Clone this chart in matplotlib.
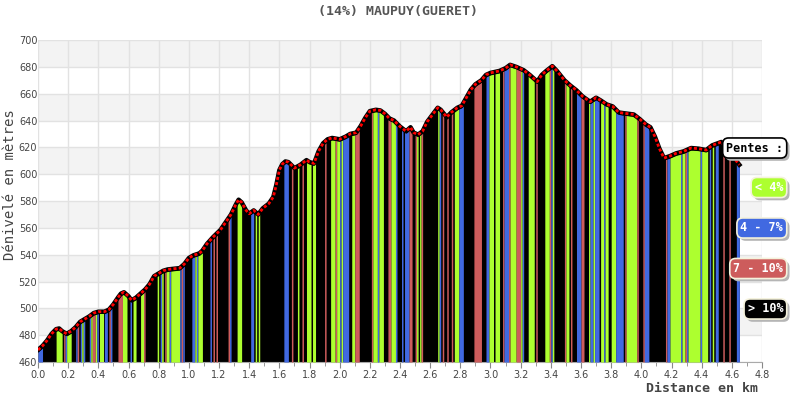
import numpy as np
import matplotlib
matplotlib.use('Agg')
import matplotlib.pyplot as plt
import matplotlib.patheffects as pe

# profil : distance (km) et altitude (m)
dist = [0.00, 0.03, 0.06, 0.09, 0.12, 0.14, 0.16, 0.19, 0.22, 0.25, 0.28, 0.31,
        0.34, 0.37, 0.40, 0.44, 0.47, 0.50, 0.53, 0.55, 0.57, 0.60, 0.62, 0.65,
        0.68, 0.71, 0.74, 0.77, 0.80, 0.83, 0.86, 0.90, 0.94, 0.97, 1.00, 1.03,
        1.07, 1.09, 1.12, 1.16, 1.21, 1.25, 1.28, 1.31, 1.33, 1.35, 1.38, 1.40,
        1.43, 1.46, 1.49, 1.53, 1.56, 1.58, 1.60, 1.62, 1.64, 1.66, 1.70, 1.74,
        1.78, 1.80, 1.83, 1.86, 1.89, 1.92, 1.95, 2.00, 2.04, 2.07, 2.11, 2.14,
        2.17, 2.20, 2.24, 2.27, 2.30, 2.33, 2.36, 2.40, 2.44, 2.47, 2.49, 2.52,
        2.55, 2.58, 2.62, 2.65, 2.67, 2.71, 2.74, 2.78, 2.81, 2.84, 2.87, 2.90,
        2.94, 2.97, 3.00, 3.06, 3.10, 3.13, 3.17, 3.22, 3.26, 3.31, 3.34, 3.37,
        3.41, 3.44, 3.49, 3.53, 3.57, 3.61, 3.66, 3.70, 3.73, 3.77, 3.81, 3.85,
        3.88, 3.95, 3.99, 4.03, 4.06, 4.09, 4.12, 4.15, 4.19, 4.23, 4.28, 4.33,
        4.38, 4.43, 4.47, 4.53, 4.56, 4.60, 4.65]
alt = [469, 472, 476, 481, 484.5, 485, 483, 481, 483, 486, 490, 492,
       494, 496.5, 497.5, 497.5, 499, 503, 508, 511, 512, 509, 506, 508,
       511, 514, 518, 524, 526, 528, 529, 529.5, 530, 533, 537.5, 539.5,
       541, 543, 548, 553, 558.5, 565, 570, 577, 581, 579, 573, 570.5,
       573, 570, 574.5, 578, 583, 592, 603, 607.5, 609.5, 609, 604.5, 607,
       610.5, 609, 608, 617, 623, 626, 627, 626, 628, 630, 631, 636,
       642, 647, 648, 647.5, 645, 641.5, 640, 635.5, 632, 635, 631, 629.5,
       632, 639, 645, 649.5, 648, 642.5, 646, 649.5, 651, 657, 663, 667,
       670, 674, 675.5, 677, 679, 681.5, 680, 677.5, 674, 669, 674, 677,
       680.5, 677, 670, 666, 662.5, 658, 654, 657, 655, 652, 650.5, 646,
       645.5, 644.5, 641, 637, 635, 628, 619, 612, 613.5, 615.5, 617, 619.5,
       619, 618, 621.5, 624, 620, 614, 607]

# bandes de pente par pas de 0.01 km : code couleur + nombre de pas
slope_runs = ("B3 K9 G4 K1 R1 B1 G3 K3 B1 R1 K1 B1 G1 B1 K3 B1 G1 R2 G1 B1 K1 G3 B2 K1 "
              "R1 B1 K4 R3 G3 K2 B1 K1 G2 K3 G2 R1 K8 G1 K1 B1 G1 K1 R1 G2 B1 G6 B1 R1 "
              "B1 K5 B2 G1 B1 G3 K5 B1 K1 R1 K1 R1 K7 R1 B1 K4 G3 K6 B2 K1 G1 K1 G1 K16 "
              "B3 K2 R1 K3 G1 K2 R1 K2 G3 K1 G2 K6 R1 K3 G3 R1 G2 B1 G1 B4 K2 G2 R3 K8 "
              "R1 G3 B1 G3 K3 R2 G3 B1 K3 B1 K1 B3 R2 K2 R1 G1 K1 G1 R1 K10 G1 B1 K1 R1 "
              "K2 R1 K2 R1 K1 G3 B3 K7 R5 K3 B2 G3 K1 G3 K2 R1 B3 R1 G4 R3 G1 B1 K3 G4 "
              "K1 R1 K5 G3 R1 B1 G1 K7 R1 G2 K1 R1 K3 B3 R2 K3 G1 B2 G1 B3 K1 G2 B1 G2 "
              "K2 G3 B5 K1 R1 G7 R1 K3 R1 B3 K11 R1 B2 G7 B1 G2 R1 B1 G8 B1 G4 K1 B1 K1 "
              "G1 K1 B2 K3 R1 K3 R1 K4 B2")

slope_colors = {'G': '#adff2f', 'B': '#4169e1', 'R': '#cd5c5c', 'K': '#000000'}
legend_codes = ['G', 'B', 'R', 'K']
legend_labels = ['< 4%', '4 - 7%', '7 - 10%', '> 10%']
title = '(14%) MAUPUY(GUERET)'

mono = 'DejaVu Sans Mono'
fig = plt.figure(figsize=(8, 4), dpi=100)
ax = fig.add_axes([0.0475, 0.095, 0.905, 0.805])
ax.set_xlim(0, 4.8)
ax.set_ylim(460, 700)

# bandes grises du fond
for y0 in range(480, 700, 40):
    ax.axhspan(y0, y0 + 20, color='#f3f3f3', lw=0, zorder=0)

ax.set_xticks(np.arange(0, 4.81, 0.2))
ax.set_xticks(np.arange(0, 4.81, 0.1), minor=True)
ax.set_xticklabels(['%.1f' % v for v in np.arange(0, 4.81, 0.2)])
ax.set_yticks(range(460, 701, 20))
ax.grid(True, which='major', color='#e2e2e2', lw=1)
ax.set_axisbelow(True)

# aire sous le profil + bandes colorées
ax.fill_between(dist, 460, alt, color='black', lw=0, zorder=2)
pos = 0
for run in slope_runs.split():
    code, n = run[0], int(run[1:])
    a, b = pos * 0.01, (pos + n) * 0.01
    xs = np.linspace(a, b, 6)
    ys = np.interp(xs, dist, alt) - 1.5
    if code != 'K':
        ax.fill_between(xs, 460, ys, color=slope_colors[code], lw=0, zorder=3)
    pos += n

ax.plot(dist, alt, color='black', lw=3.2, zorder=4, solid_joinstyle='round')
ax.plot(dist, alt, color='#ff0000', lw=2, ls=(0, (1.1, 0.8)), zorder=5)

for s in ['top', 'right', 'left']:
    ax.spines[s].set_visible(False)
ax.spines['bottom'].set_color('#aaaaaa')
ax.tick_params(axis='x', which='both', direction='out', colors='#888888',
               labelcolor='#444444', labelsize=7, pad=2)
ax.tick_params(axis='x', which='major', length=4)
ax.tick_params(axis='x', which='minor', length=3)
ax.tick_params(axis='y', length=0, labelcolor='#444444', labelsize=7, pad=0.5)

fig.text(0.4975, 0.972, title, ha='center', va='center', family=mono,
         fontsize=9.5, fontweight='bold', color='#555555')
fig.text(0.012, 0.5375, 'Dénivelé en mètres', rotation=90, ha='center',
         va='center', family=mono, fontsize=10, color='#444444')
fig.text(0.9475, 0.0275, 'Distance en km', ha='right', va='center',
         family=mono, fontsize=9.5, fontweight='bold', color='#444444')

# légende des pentes
def tag(y, text, fc, ec, tc):
    t = fig.text(0.979, 1 - y / 400, text, ha='right', va='center', family=mono,
                 fontsize=8.5, fontweight='bold', color=tc, zorder=10,
                 bbox=dict(boxstyle='round,pad=0.3,rounding_size=0.5',
                           fc=fc, ec=ec, lw=1.2))
    t.get_bbox_patch().set_path_effects(
        [pe.withSimplePatchShadow(offset=(2, -2), shadow_rgbFace='#b5b5b5', alpha=1)])

tag(148, 'Pentes :', 'white', 'black', 'black')
for i, (code, lab) in enumerate(zip(legend_codes, legend_labels)):
    tag(187.5 + 40.5 * i, lab, slope_colors[code], '#f5f2dc', 'white')

fig.savefig('out.png', dpi=100)
